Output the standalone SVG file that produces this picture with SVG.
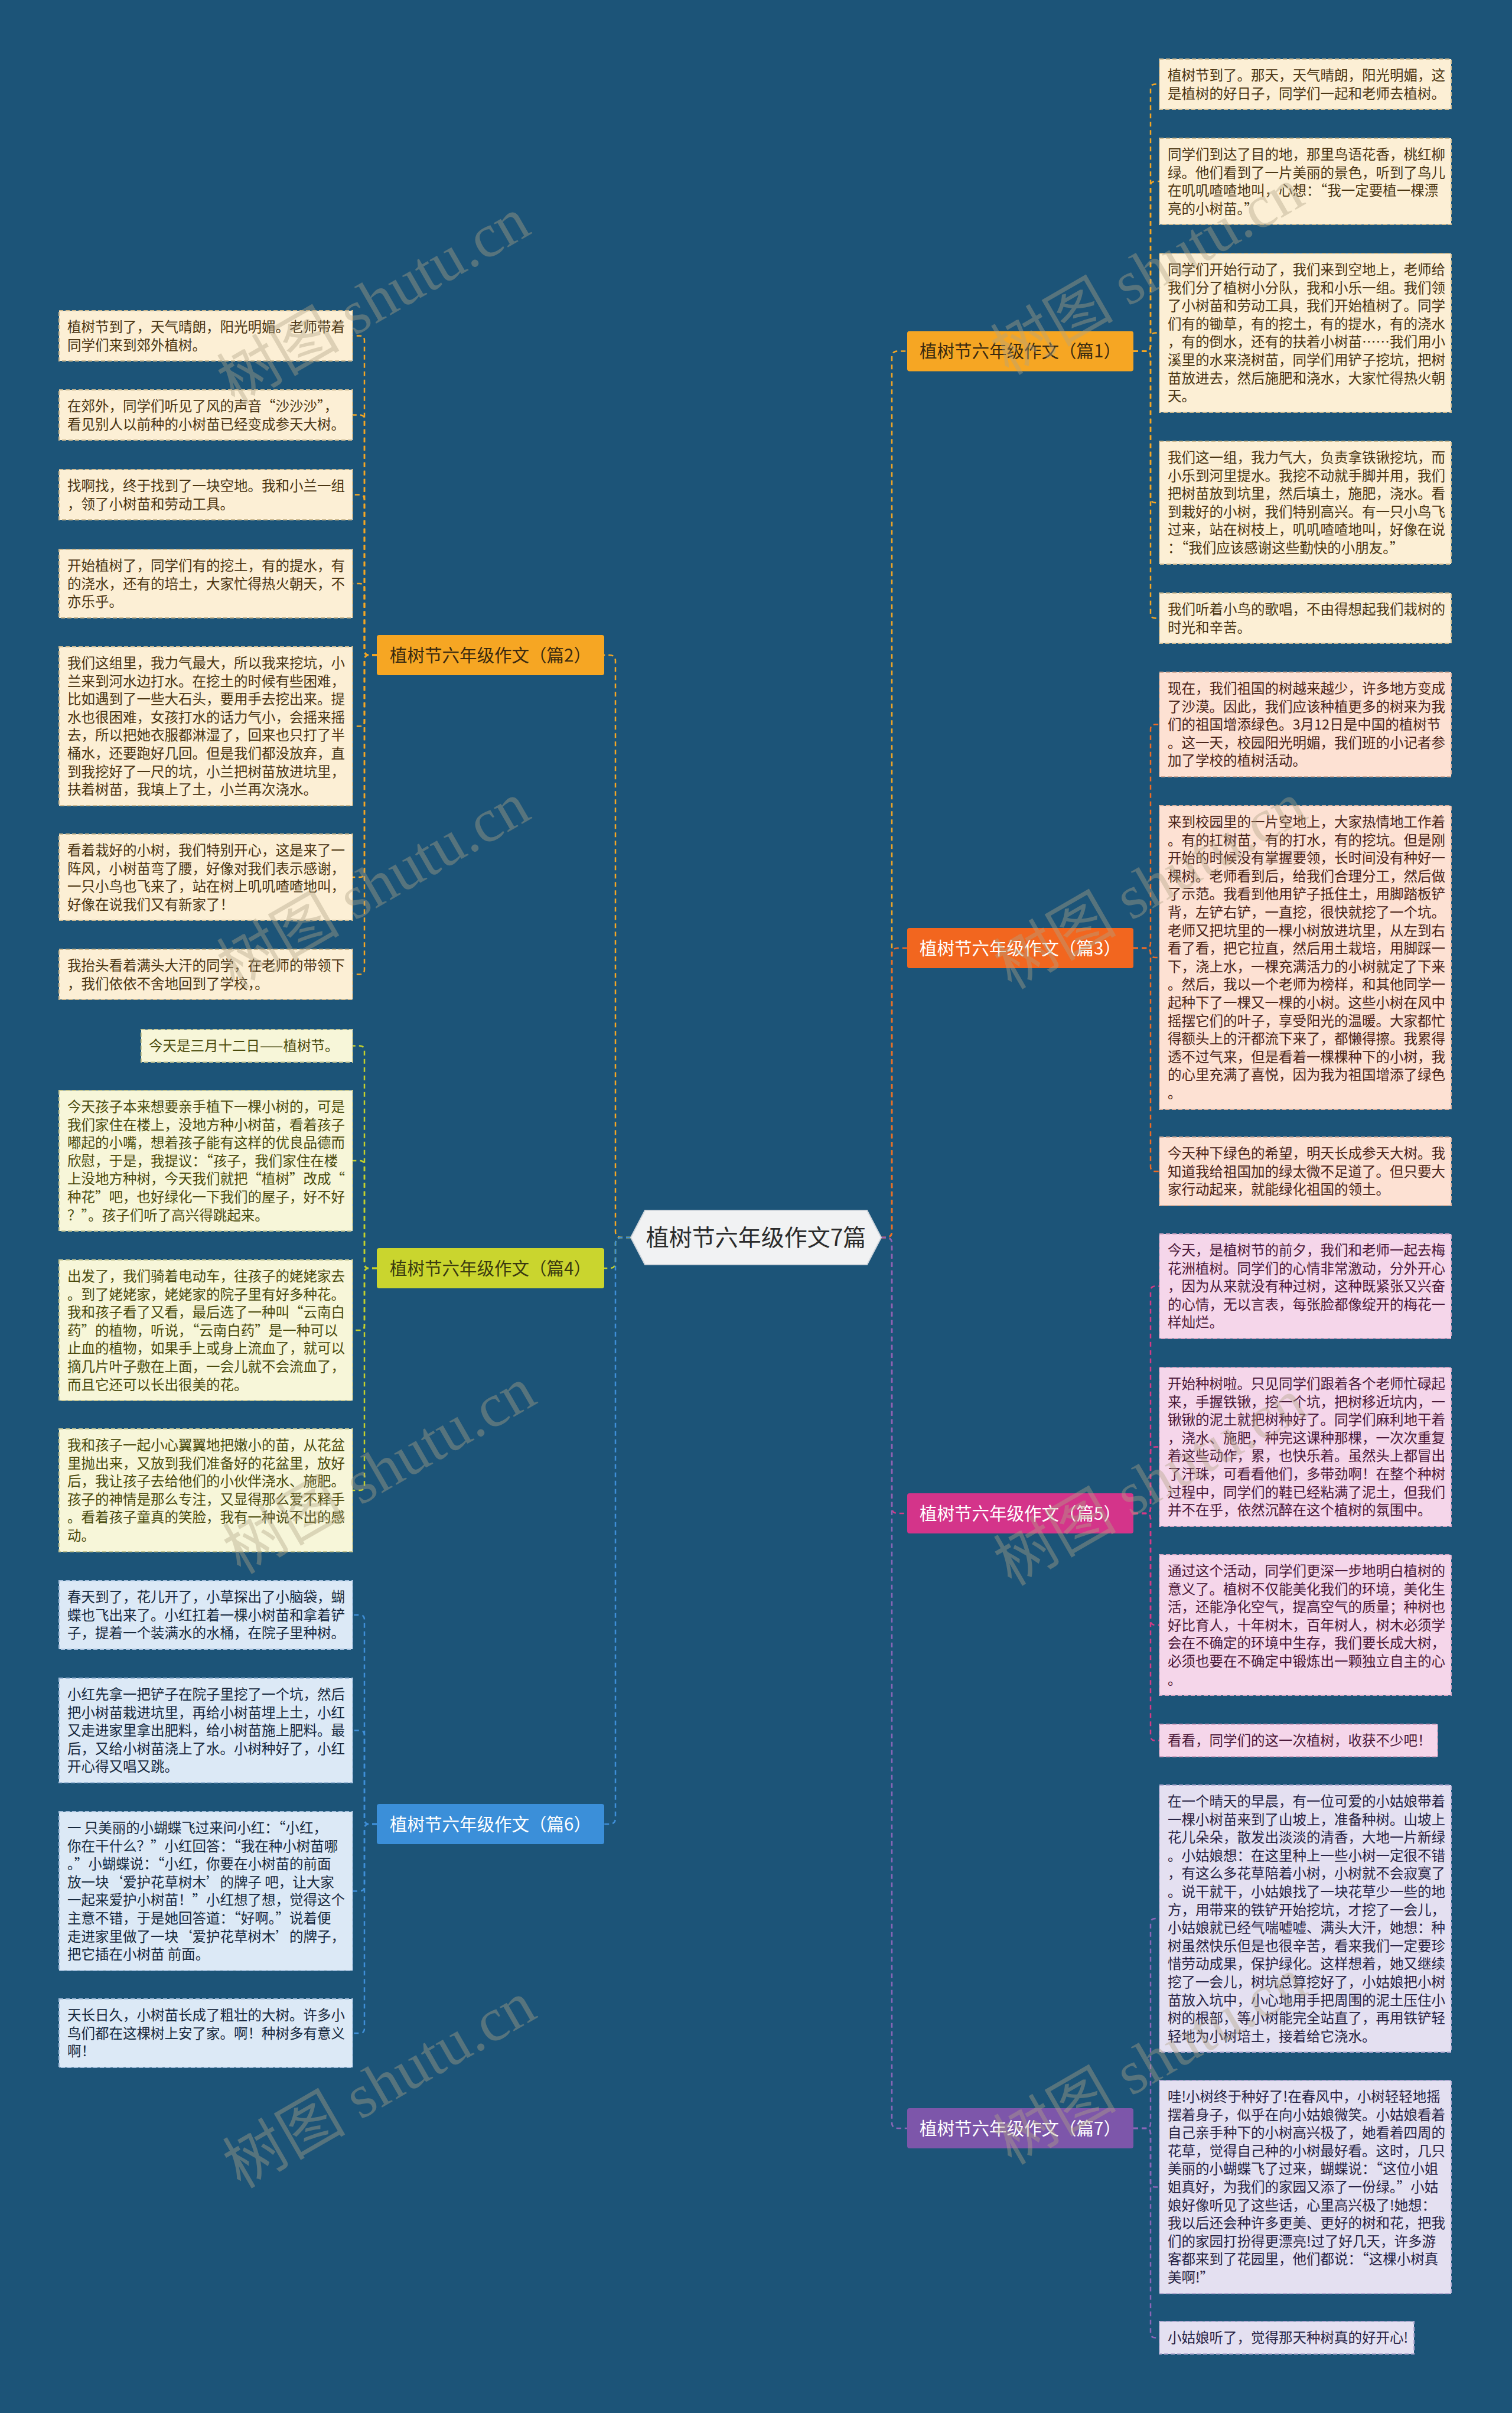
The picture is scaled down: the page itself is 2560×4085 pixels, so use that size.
<svg xmlns="http://www.w3.org/2000/svg" width="2560" height="4085" viewBox="0 0 2560 4085">
<style>
.t{font-family:"Noto Sans CJK SC","Noto Sans",sans-serif;font-size:23.5px}
.lf{stroke-width:2;stroke-dasharray:7 4}
.l1{fill:#fcefd5;stroke:#cdb98f}.t1{fill:#4a3512}
.l3{fill:#fde1d3;stroke:#d8ae9a}.t3{fill:#4a2418}
.l4{fill:#f7f6d9;stroke:#c8c894}.t4{fill:#4a4a0c}
.l5{fill:#f5d6ea;stroke:#d3a4c2}.t5{fill:#4a1838}
.l6{fill:#dce9f6;stroke:#a3bedb}.t6{fill:#16283d}
.l7{fill:#e4e0f1;stroke:#b3abd2}.t7{fill:#272344}
.c{fill:none;stroke-width:2.5;stroke-dasharray:8 6}
.c1{stroke:#f5a623}.c3{stroke:#ef6b24}.c4{stroke:#c5d12b}.c5{stroke:#d63a86}.c6{stroke:#3f8fd8}.c7{stroke:#8b66b8}
.bt{font-family:"Noto Sans CJK SC","Noto Sans",sans-serif;font-size:29.5px;text-anchor:middle}
.wm{font-family:"Liberation Serif","Noto Sans CJK SC",serif;font-size:104px;fill:#b0a486;opacity:0.4;text-anchor:middle}
</style>
<rect x="0" y="0" width="2560" height="4085" fill="#1c5478"/>

<g id="connectors">
<path class="c c1" d="M1492 2095 H1500 Q1510 2095 1510 2085 V604.5 Q1510 594.5 1520 594.5 H1536"/>
<path class="c c3" d="M1492 2095 H1500 Q1510 2095 1510 2085 V1615 Q1510 1605 1520 1605 H1536"/>
<path class="c c5" d="M1492 2095 H1500 Q1510 2095 1510 2105 V2552 Q1510 2562 1520 2562 H1536"/>
<path class="c c7" d="M1492 2095 H1500 Q1510 2095 1510 2105 V3593 Q1510 3603 1520 3603 H1536"/>
<path class="c c1" d="M1068 2095 H1052 Q1042 2095 1042 2085 V1119 Q1042 1109 1032 1109 H1023"/>
<path class="c c4" d="M1068 2095 H1052 Q1042 2095 1042 2105 V2137 Q1042 2147 1032 2147 H1023"/>
<path class="c c6" d="M1068 2095 H1052 Q1042 2095 1042 2105 V3078 Q1042 3088 1032 3088 H1023"/>
<path class="c c1" d="M1919 594.5 H1940 Q1948 594.5 1948 586.5 V150.5 Q1948 142.5 1956 142.5 H1963"/>
<path class="c c1" d="M1919 594.5 H1940 Q1948 594.5 1948 586.5 V315 Q1948 307 1956 307 H1963"/>
<path class="c c1" d="M1919 594.5 H1940 Q1948 594.5 1948 586.5 V571.5 Q1948 563.5 1956 563.5 H1963"/>
<path class="c c1" d="M1919 594.5 H1940 Q1948 594.5 1948 602.5 V843 Q1948 851 1956 851 H1963"/>
<path class="c c1" d="M1919 594.5 H1940 Q1948 594.5 1948 602.5 V1038.5 Q1948 1046.5 1956 1046.5 H1963"/>
<path class="c c3" d="M1919 1605 H1940 Q1948 1605 1948 1597 V1234.5 Q1948 1226.5 1956 1226.5 H1963"/>
<path class="c c3" d="M1919 1605 H1940 Q1948 1605 1948 1613 V1613 Q1948 1621 1956 1621 H1963"/>
<path class="c c3" d="M1919 1605 H1940 Q1948 1605 1948 1613 V1975 Q1948 1983 1956 1983 H1963"/>
<path class="c c5" d="M1919 2562 H1940 Q1948 2562 1948 2554 V2185.5 Q1948 2177.5 1956 2177.5 H1963"/>
<path class="c c5" d="M1919 2562 H1940 Q1948 2562 1948 2554 V2457.5 Q1948 2449.5 1956 2449.5 H1963"/>
<path class="c c5" d="M1919 2562 H1940 Q1948 2562 1948 2570 V2743 Q1948 2751 1956 2751 H1963"/>
<path class="c c5" d="M1919 2562 H1940 Q1948 2562 1948 2570 V2938.5 Q1948 2946.5 1956 2946.5 H1963"/>
<path class="c c7" d="M1919 3603 H1940 Q1948 3603 1948 3595 V3256 Q1948 3248 1956 3248 H1963"/>
<path class="c c7" d="M1919 3603 H1940 Q1948 3603 1948 3611 V3694.5 Q1948 3702.5 1956 3702.5 H1963"/>
<path class="c c7" d="M1919 3603 H1940 Q1948 3603 1948 3611 V3949.5 Q1948 3957.5 1956 3957.5 H1963"/>
<path class="c c1" d="M638 1109 H625 Q617 1109 617 1101 V576.5 Q617 568.5 609 568.5 H597"/>
<path class="c c1" d="M638 1109 H625 Q617 1109 617 1101 V710.5 Q617 702.5 609 702.5 H597"/>
<path class="c c1" d="M638 1109 H625 Q617 1109 617 1101 V845.5 Q617 837.5 609 837.5 H597"/>
<path class="c c1" d="M638 1109 H625 Q617 1109 617 1101 V996 Q617 988 609 988 H597"/>
<path class="c c1" d="M638 1109 H625 Q617 1109 617 1117 V1221.5 Q617 1229.5 609 1229.5 H597"/>
<path class="c c1" d="M638 1109 H625 Q617 1109 617 1117 V1477 Q617 1485 609 1485 H597"/>
<path class="c c1" d="M638 1109 H625 Q617 1109 617 1117 V1641.5 Q617 1649.5 609 1649.5 H597"/>
<path class="c c4" d="M638 2147 H625 Q617 2147 617 2139 V1778.5 Q617 1770.5 609 1770.5 H597"/>
<path class="c c4" d="M638 2147 H625 Q617 2147 617 2139 V1973 Q617 1965 609 1965 H597"/>
<path class="c c4" d="M638 2147 H625 Q617 2147 617 2155 V2244 Q617 2252 609 2252 H597"/>
<path class="c c4" d="M638 2147 H625 Q617 2147 617 2155 V2515 Q617 2523 609 2523 H597"/>
<path class="c c6" d="M638 3088 H625 Q617 3088 617 3080 V2742 Q617 2734 609 2734 H597"/>
<path class="c c6" d="M638 3088 H625 Q617 3088 617 3080 V2937.5 Q617 2929.5 609 2929.5 H597"/>
<path class="c c6" d="M638 3088 H625 Q617 3088 617 3096 V3193.5 Q617 3201.5 609 3201.5 H597"/>
<path class="c c6" d="M638 3088 H625 Q617 3088 617 3096 V3434 Q617 3442 609 3442 H597"/>
</g>

<g id="center">
<polygon points="1068,2095 1092,2049 1468,2049 1492,2095 1468,2141 1092,2141" fill="#f1f2f3" stroke="#d0d6dc" stroke-width="2"/>
<text x="1280" y="2109" font-family="Noto Sans CJK SC,Noto Sans,sans-serif" font-size="39" fill="#2b2b2b" text-anchor="middle">植树节六年级作文7篇</text>
</g>

<g id="branch1"><rect x="1536" y="560.5" width="383" height="68" rx="4" fill="#f6a623"/><text class="bt" x="1727.5" y="605" fill="#3a2a10">植树节六年级作文（篇1）</text></g>
<g id="branch3"><rect x="1536" y="1571" width="383" height="68" rx="4" fill="#f2661f"/><text class="bt" x="1727.5" y="1615.5" fill="#ffffff">植树节六年级作文（篇3）</text></g>
<g id="branch5"><rect x="1536" y="2528" width="383" height="68" rx="4" fill="#d4348a"/><text class="bt" x="1727.5" y="2572.5" fill="#ffffff">植树节六年级作文（篇5）</text></g>
<g id="branch7"><rect x="1536" y="3569" width="383" height="68" rx="4" fill="#7d56aa"/><text class="bt" x="1727.5" y="3613.5" fill="#ffffff">植树节六年级作文（篇7）</text></g>
<g id="branch2"><rect x="638" y="1075" width="385" height="68" rx="4" fill="#f6a623"/><text class="bt" x="830.5" y="1119.5" fill="#3a2a10">植树节六年级作文（篇2）</text></g>
<g id="branch4"><rect x="638" y="2113" width="385" height="68" rx="4" fill="#cad52e"/><text class="bt" x="830.5" y="2157.5" fill="#3a3a10">植树节六年级作文（篇4）</text></g>
<g id="branch6"><rect x="638" y="3054" width="385" height="68" rx="4" fill="#3b8fd9"/><text class="bt" x="830.5" y="3098.5" fill="#ffffff">植树节六年级作文（篇6）</text></g>

<g id="r1-1"><rect class="lf l1" x="1963" y="100" width="494" height="85"/><text class="t t1"><tspan x="1977" y="136">植树节到了。那天，天气晴朗，阳光明媚，这</tspan><tspan x="1977" y="166.6">是植树的好日子，同学们一起和老师去植树。</tspan></text></g>
<g id="r1-2"><rect class="lf l1" x="1963" y="234" width="494" height="146"/><text class="t t1"><tspan x="1977" y="270">同学们到达了目的地，那里鸟语花香，桃红柳</tspan><tspan x="1977" y="300.6">绿。他们看到了一片美丽的景色，听到了鸟儿</tspan><tspan x="1977" y="331.2">在叽叽喳喳地叫，心想：“我一定要植一棵漂</tspan><tspan x="1977" y="361.8">亮的小树苗。”</tspan></text></g>
<g id="r1-3"><rect class="lf l1" x="1963" y="429" width="494" height="269"/><text class="t t1"><tspan x="1977" y="465">同学们开始行动了，我们来到空地上，老师给</tspan><tspan x="1977" y="495.6">我们分了植树小分队，我和小乐一组。我们领</tspan><tspan x="1977" y="526.2">了小树苗和劳动工具，我们开始植树了。同学</tspan><tspan x="1977" y="556.8">们有的锄草，有的挖土，有的提水，有的浇水</tspan><tspan x="1977" y="587.4">，有的倒水，还有的扶着小树苗……我们用小</tspan><tspan x="1977" y="618">溪里的水来浇树苗，同学们用铲子挖坑，把树</tspan><tspan x="1977" y="648.6">苗放进去，然后施肥和浇水，大家忙得热火朝</tspan><tspan x="1977" y="679.2">天。</tspan></text></g>
<g id="r1-4"><rect class="lf l1" x="1963" y="747" width="494" height="208"/><text class="t t1"><tspan x="1977" y="783">我们这一组，我力气大，负责拿铁锹挖坑，而</tspan><tspan x="1977" y="813.6">小乐到河里提水。我挖不动就手脚并用，我们</tspan><tspan x="1977" y="844.2">把树苗放到坑里，然后填土，施肥，浇水。看</tspan><tspan x="1977" y="874.8">到栽好的小树，我们特别高兴。有一只小鸟飞</tspan><tspan x="1977" y="905.4">过来，站在树枝上，叽叽喳喳地叫，好像在说</tspan><tspan x="1977" y="936">：“我们应该感谢这些勤快的小朋友。”</tspan></text></g>
<g id="r1-5"><rect class="lf l1" x="1963" y="1004" width="494" height="85"/><text class="t t1"><tspan x="1977" y="1040">我们听着小鸟的歌唱，不由得想起我们栽树的</tspan><tspan x="1977" y="1070.6">时光和辛苦。</tspan></text></g>

<g id="r3-1"><rect class="lf l3" x="1963" y="1138" width="494" height="177"/><text class="t t3"><tspan x="1977" y="1174">现在，我们祖国的树越来越少，许多地方变成</tspan><tspan x="1977" y="1204.6">了沙漠。因此，我们应该种植更多的树来为我</tspan><tspan x="1977" y="1235.2">们的祖国增添绿色。3月12日是中国的植树节</tspan><tspan x="1977" y="1265.8">。这一天，校园阳光明媚，我们班的小记者参</tspan><tspan x="1977" y="1296.4">加了学校的植树活动。</tspan></text></g>
<g id="r3-2"><rect class="lf l3" x="1963" y="1364" width="494" height="514"/><text class="t t3"><tspan x="1977" y="1400">来到校园里的一片空地上，大家热情地工作着</tspan><tspan x="1977" y="1430.6">。有的扛树苗，有的打水，有的挖坑。但是刚</tspan><tspan x="1977" y="1461.2">开始的时候没有掌握要领，长时间没有种好一</tspan><tspan x="1977" y="1491.8">棵树。老师看到后，给我们合理分工，然后做</tspan><tspan x="1977" y="1522.4">了示范。我看到他用铲子抵住土，用脚踏板铲</tspan><tspan x="1977" y="1553">背，左铲右铲，一直挖，很快就挖了一个坑。</tspan><tspan x="1977" y="1583.6">老师又把坑里的一棵小树放进坑里，从左到右</tspan><tspan x="1977" y="1614.2">看了看，把它拉直，然后用土栽培，用脚踩一</tspan><tspan x="1977" y="1644.8">下，浇上水，一棵充满活力的小树就定了下来</tspan><tspan x="1977" y="1675.4">。然后，我以一个老师为榜样，和其他同学一</tspan><tspan x="1977" y="1706">起种下了一棵又一棵的小树。这些小树在风中</tspan><tspan x="1977" y="1736.6">摇摆它们的叶子，享受阳光的温暖。大家都忙</tspan><tspan x="1977" y="1767.2">得额头上的汗都流下来了，都懒得擦。我累得</tspan><tspan x="1977" y="1797.8">透不过气来，但是看着一棵棵种下的小树，我</tspan><tspan x="1977" y="1828.4">的心里充满了喜悦，因为我为祖国增添了绿色</tspan><tspan x="1977" y="1859">。</tspan></text></g>
<g id="r3-3"><rect class="lf l3" x="1963" y="1925" width="494" height="116"/><text class="t t3"><tspan x="1977" y="1961">今天种下绿色的希望，明天长成参天大树。我</tspan><tspan x="1977" y="1991.6">知道我给祖国加的绿太微不足道了。但只要大</tspan><tspan x="1977" y="2022.2">家行动起来，就能绿化祖国的领土。</tspan></text></g>

<g id="r5-1"><rect class="lf l5" x="1963" y="2089" width="494" height="177"/><text class="t t5"><tspan x="1977" y="2125">今天，是植树节的前夕，我们和老师一起去梅</tspan><tspan x="1977" y="2155.6">花洲植树。同学们的心情非常激动，分外开心</tspan><tspan x="1977" y="2186.2">，因为从来就没有种过树，这种既紧张又兴奋</tspan><tspan x="1977" y="2216.8">的心情，无以言表，每张脸都像绽开的梅花一</tspan><tspan x="1977" y="2247.4">样灿烂。</tspan></text></g>
<g id="r5-2"><rect class="lf l5" x="1963" y="2315" width="494" height="269"/><text class="t t5"><tspan x="1977" y="2351">开始种树啦。只见同学们跟着各个老师忙碌起</tspan><tspan x="1977" y="2381.6">来，手握铁锹，挖一个坑，把树移近坑内，一</tspan><tspan x="1977" y="2412.2">锹锹的泥土就把树种好了。同学们麻利地干着</tspan><tspan x="1977" y="2442.8">，浇水、施肥，种完这课种那棵，一次次重复</tspan><tspan x="1977" y="2473.4">着这些动作，累，也快乐着。虽然头上都冒出</tspan><tspan x="1977" y="2504">了汗珠，可看看他们，多带劲啊！在整个种树</tspan><tspan x="1977" y="2534.6">过程中，同学们的鞋已经粘满了泥土，但我们</tspan><tspan x="1977" y="2565.2">并不在乎，依然沉醉在这个植树的氛围中。</tspan></text></g>
<g id="r5-3"><rect class="lf l5" x="1963" y="2632" width="494" height="238"/><text class="t t5"><tspan x="1977" y="2668">通过这个活动，同学们更深一步地明白植树的</tspan><tspan x="1977" y="2698.6">意义了。植树不仅能美化我们的环境，美化生</tspan><tspan x="1977" y="2729.2">活，还能净化空气，提高空气的质量；种树也</tspan><tspan x="1977" y="2759.8">好比育人，十年树木，百年树人，树木必须学</tspan><tspan x="1977" y="2790.4">会在不确定的环境中生存，我们要长成大树，</tspan><tspan x="1977" y="2821">必须也要在不确定中锻炼出一颗独立自主的心</tspan><tspan x="1977" y="2851.6">。</tspan></text></g>
<g id="r5-4"><rect class="lf l5" x="1963" y="2919" width="471" height="55"/><text class="t t5"><tspan x="1977" y="2955">看看，同学们的这一次植树，收获不少吧！</tspan></text></g>

<g id="r7-1"><rect class="lf l7" x="1963" y="3022" width="494" height="452"/><text class="t t7"><tspan x="1977" y="3058">在一个晴天的早晨，有一位可爱的小姑娘带着</tspan><tspan x="1977" y="3088.6">一棵小树苗来到了山坡上，准备种树。山坡上</tspan><tspan x="1977" y="3119.2">花儿朵朵，散发出淡淡的清香，大地一片新绿</tspan><tspan x="1977" y="3149.8">。小姑娘想：在这里种上一些小树一定很不错</tspan><tspan x="1977" y="3180.4">，有这么多花草陪着小树，小树就不会寂寞了</tspan><tspan x="1977" y="3211">。说干就干，小姑娘找了一块花草少一些的地</tspan><tspan x="1977" y="3241.6">方，用带来的铁铲开始挖坑，才挖了一会儿，</tspan><tspan x="1977" y="3272.2">小姑娘就已经气喘嘘嘘、满头大汗，她想：种</tspan><tspan x="1977" y="3302.8">树虽然快乐但是也很辛苦，看来我们一定要珍</tspan><tspan x="1977" y="3333.4">惜劳动成果，保护绿化。这样想着，她又继续</tspan><tspan x="1977" y="3364">挖了一会儿，树坑总算挖好了，小姑娘把小树</tspan><tspan x="1977" y="3394.6">苗放入坑中，小心地用手把周围的泥土压住小</tspan><tspan x="1977" y="3425.2">树的根部，等小树能完全站直了，再用铁铲轻</tspan><tspan x="1977" y="3455.8">轻地为小树培土，接着给它浇水。</tspan></text></g>
<g id="r7-2"><rect class="lf l7" x="1963" y="3522" width="494" height="361"/><text class="t t7"><tspan x="1977" y="3558">哇!小树终于种好了!在春风中，小树轻轻地摇</tspan><tspan x="1977" y="3588.6">摆着身子，似乎在向小姑娘微笑。小姑娘看着</tspan><tspan x="1977" y="3619.2">自己亲手种下的小树高兴极了，她看着四周的</tspan><tspan x="1977" y="3649.8">花草，觉得自己种的小树最好看。这时，几只</tspan><tspan x="1977" y="3680.4">美丽的小蝴蝶飞了过来，蝴蝶说：“这位小姐</tspan><tspan x="1977" y="3711">姐真好，为我们的家园又添了一份绿。”小姑</tspan><tspan x="1977" y="3741.6">娘好像听见了这些话，心里高兴极了!她想：</tspan><tspan x="1977" y="3772.2">我以后还会种许多更美、更好的树和花，把我</tspan><tspan x="1977" y="3802.8">们的家园打扮得更漂亮!过了好几天，许多游</tspan><tspan x="1977" y="3833.4">客都来到了花园里，他们都说：“这棵小树真</tspan><tspan x="1977" y="3864">美啊!”</tspan></text></g>
<g id="r7-3"><rect class="lf l7" x="1963" y="3930" width="431" height="55"/><text class="t t7"><tspan x="1977" y="3966">小姑娘听了，觉得那天种树真的好开心!</tspan></text></g>

<g id="l2-1"><rect class="lf l1" x="100" y="526" width="497" height="85"/><text class="t t1"><tspan x="114" y="562">植树节到了，天气晴朗，阳光明媚。老师带着</tspan><tspan x="114" y="592.6">同学们来到郊外植树。</tspan></text></g>
<g id="l2-2"><rect class="lf l1" x="100" y="660" width="497" height="85"/><text class="t t1"><tspan x="114" y="696">在郊外，同学们听见了风的声音“沙沙沙”，</tspan><tspan x="114" y="726.6">看见别人以前种的小树苗已经变成参天大树。</tspan></text></g>
<g id="l2-3"><rect class="lf l1" x="100" y="795" width="497" height="85"/><text class="t t1"><tspan x="114" y="831">找啊找，终于找到了一块空地。我和小兰一组</tspan><tspan x="114" y="861.6">，领了小树苗和劳动工具。</tspan></text></g>
<g id="l2-4"><rect class="lf l1" x="100" y="930" width="497" height="116"/><text class="t t1"><tspan x="114" y="966">开始植树了，同学们有的挖土，有的提水，有</tspan><tspan x="114" y="996.6">的浇水，还有的培土，大家忙得热火朝天，不</tspan><tspan x="114" y="1027.2">亦乐乎。</tspan></text></g>
<g id="l2-5"><rect class="lf l1" x="100" y="1095" width="497" height="269"/><text class="t t1"><tspan x="114" y="1131">我们这组里，我力气最大，所以我来挖坑，小</tspan><tspan x="114" y="1161.6">兰来到河水边打水。在挖土的时候有些困难，</tspan><tspan x="114" y="1192.2">比如遇到了一些大石头，要用手去挖出来。提</tspan><tspan x="114" y="1222.8">水也很困难，女孩打水的话力气小，会摇来摇</tspan><tspan x="114" y="1253.4">去，所以把她衣服都淋湿了，回来也只打了半</tspan><tspan x="114" y="1284">桶水，还要跑好几回。但是我们都没放弃，直</tspan><tspan x="114" y="1314.6">到我挖好了一尺的坑，小兰把树苗放进坑里，</tspan><tspan x="114" y="1345.2">扶着树苗，我填上了土，小兰再次浇水。</tspan></text></g>
<g id="l2-6"><rect class="lf l1" x="100" y="1412" width="497" height="146"/><text class="t t1"><tspan x="114" y="1448">看着栽好的小树，我们特别开心，这是来了一</tspan><tspan x="114" y="1478.6">阵风，小树苗弯了腰，好像对我们表示感谢，</tspan><tspan x="114" y="1509.2">一只小鸟也飞来了，站在树上叽叽喳喳地叫，</tspan><tspan x="114" y="1539.8">好像在说我们又有新家了！</tspan></text></g>
<g id="l2-7"><rect class="lf l1" x="100" y="1607" width="497" height="85"/><text class="t t1"><tspan x="114" y="1643">我抬头看着满头大汗的同学，在老师的带领下</tspan><tspan x="114" y="1673.6">，我们依依不舍地回到了学校，。</tspan></text></g>

<g id="l4-1"><rect class="lf l4" x="239" y="1743" width="358" height="55"/><text class="t t4"><tspan x="252" y="1779">今天是三月十二日——植树节。</tspan></text></g>
<g id="l4-2"><rect class="lf l4" x="100" y="1846" width="497" height="238"/><text class="t t4"><tspan x="114" y="1882">今天孩子本来想要亲手植下一棵小树的，可是</tspan><tspan x="114" y="1912.6">我们家住在楼上，没地方种小树苗，看着孩子</tspan><tspan x="114" y="1943.2">嘟起的小嘴，想着孩子能有这样的优良品德而</tspan><tspan x="114" y="1973.8">欣慰，于是，我提议：“孩子，我们家住在楼</tspan><tspan x="114" y="2004.4">上没地方种树，今天我们就把“植树”改成“</tspan><tspan x="114" y="2035">种花”吧，也好绿化一下我们的屋子，好不好</tspan><tspan x="114" y="2065.6">？”。孩子们听了高兴得跳起来。</tspan></text></g>
<g id="l4-3"><rect class="lf l4" x="100" y="2133" width="497" height="238"/><text class="t t4"><tspan x="114" y="2169">出发了，我们骑着电动车，往孩子的姥姥家去</tspan><tspan x="114" y="2199.6">。到了姥姥家，姥姥家的院子里有好多种花。</tspan><tspan x="114" y="2230.2">我和孩子看了又看，最后选了一种叫“云南白</tspan><tspan x="114" y="2260.8">药”的植物，听说，“云南白药”是一种可以</tspan><tspan x="114" y="2291.4">止血的植物，如果手上或身上流血了，就可以</tspan><tspan x="114" y="2322">摘几片叶子敷在上面，一会儿就不会流血了，</tspan><tspan x="114" y="2352.6">而且它还可以长出很美的花。</tspan></text></g>
<g id="l4-4"><rect class="lf l4" x="100" y="2419" width="497" height="208"/><text class="t t4"><tspan x="114" y="2455">我和孩子一起小心翼翼地把嫩小的苗，从花盆</tspan><tspan x="114" y="2485.6">里抛出来，又放到我们准备好的花盆里，放好</tspan><tspan x="114" y="2516.2">后，我让孩子去给他们的小伙伴浇水、施肥。</tspan><tspan x="114" y="2546.8">孩子的神情是那么专注，又显得那么爱不释手</tspan><tspan x="114" y="2577.4">。看着孩子童真的笑脸，我有一种说不出的感</tspan><tspan x="114" y="2608">动。</tspan></text></g>

<g id="l6-1"><rect class="lf l6" x="100" y="2676" width="497" height="116"/><text class="t t6"><tspan x="114" y="2712">春天到了，花儿开了，小草探出了小脑袋，蝴</tspan><tspan x="114" y="2742.6">蝶也飞出来了。小红扛着一棵小树苗和拿着铲</tspan><tspan x="114" y="2773.2">子，提着一个装满水的水桶，在院子里种树。</tspan></text></g>
<g id="l6-2"><rect class="lf l6" x="100" y="2841" width="497" height="177"/><text class="t t6"><tspan x="114" y="2877">小红先拿一把铲子在院子里挖了一个坑，然后</tspan><tspan x="114" y="2907.6">把小树苗栽进坑里，再给小树苗埋上土，小红</tspan><tspan x="114" y="2938.2">又走进家里拿出肥料，给小树苗施上肥料。最</tspan><tspan x="114" y="2968.8">后，又给小树苗浇上了水。小树种好了，小红</tspan><tspan x="114" y="2999.4">开心得又唱又跳。</tspan></text></g>
<g id="l6-3"><rect class="lf l6" x="100" y="3067" width="497" height="269"/><text class="t t6"><tspan x="114" y="3103">一 只美丽的小蝴蝶飞过来问小红：“小红，</tspan><tspan x="114" y="3133.6">你在干什么？”小红回答：“我在种小树苗哪</tspan><tspan x="114" y="3164.2">。”小蝴蝶说：“小红，你要在小树苗的前面</tspan><tspan x="114" y="3194.8">放一块‘爱护花草树木’的牌子 吧，让大家</tspan><tspan x="114" y="3225.4">一起来爱护小树苗！”小红想了想，觉得这个</tspan><tspan x="114" y="3256">主意不错，于是她回答道：“好啊。”说着便</tspan><tspan x="114" y="3286.6">走进家里做了一块‘爱护花草树木’的牌子，</tspan><tspan x="114" y="3317.2">把它插在小树苗 前面。</tspan></text></g>
<g id="l6-4"><rect class="lf l6" x="100" y="3384" width="497" height="116"/><text class="t t6"><tspan x="114" y="3420">天长日久，小树苗长成了粗壮的大树。许多小</tspan><tspan x="114" y="3450.6">鸟们都在这棵树上安了家。啊！种树多有意义</tspan><tspan x="114" y="3481.2">啊！</tspan></text></g>

<g id="watermarks">
<text class="wm" transform="translate(650,540) rotate(-30)">树图 shutu.cn</text>
<text class="wm" transform="translate(1960,490) rotate(-30)">树图 shutu.cn</text>
<text class="wm" transform="translate(650,1530) rotate(-30)">树图 shutu.cn</text>
<text class="wm" transform="translate(1965,1530) rotate(-30)">树图 shutu.cn</text>
<text class="wm" transform="translate(660,2520) rotate(-30)">树图 shutu.cn</text>
<text class="wm" transform="translate(1965,2540) rotate(-30)">树图 shutu.cn</text>
<text class="wm" transform="translate(660,3560) rotate(-30)">树图 shutu.cn</text>
<text class="wm" transform="translate(1965,3520) rotate(-30)">树图 shutu.cn</text>
</g>
</svg>
